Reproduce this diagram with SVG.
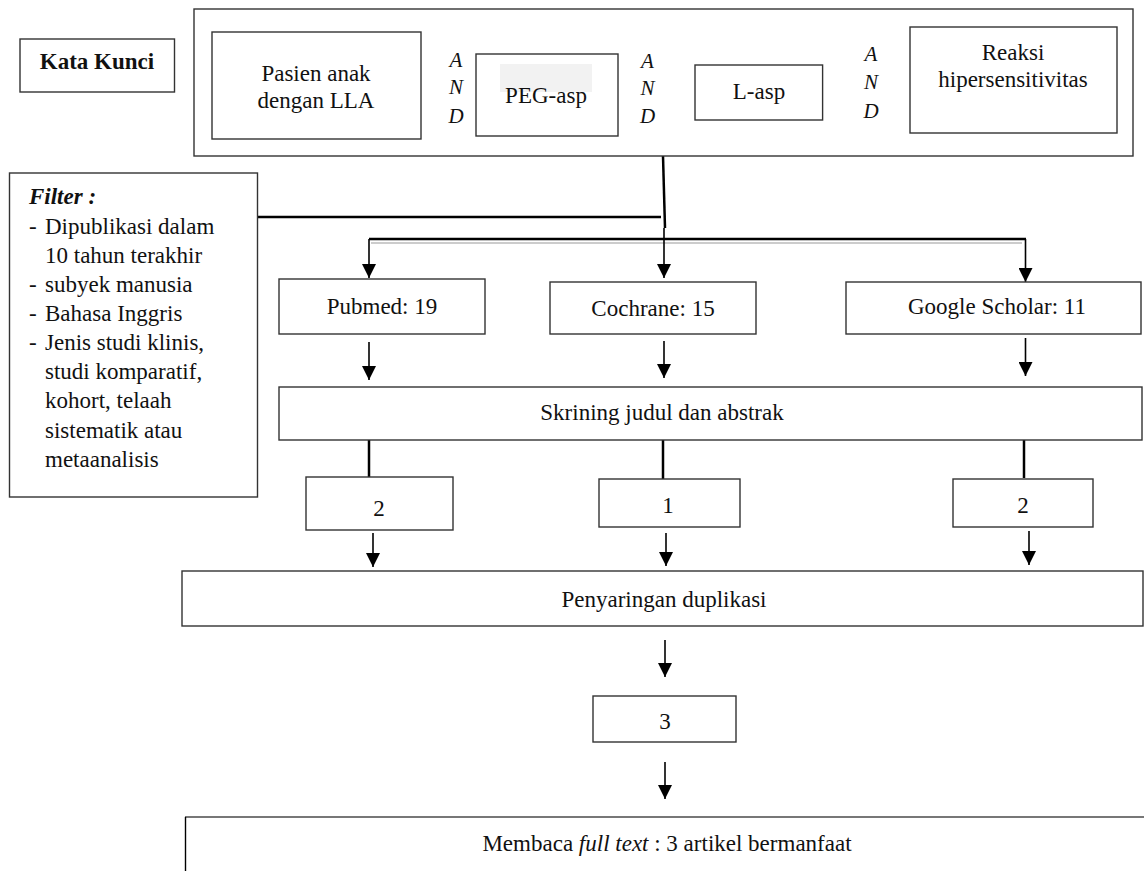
<svg xmlns="http://www.w3.org/2000/svg" width="1144" height="871" viewBox="0 0 1144 871">
<style>
.box{fill:#fff;stroke:#333;stroke-width:1.4}
.t{font-family:"Liberation Serif","Times New Roman",serif;font-size:23px;fill:#111}
.c{text-anchor:middle}
.and{font-family:"Liberation Serif","Times New Roman",serif;font-size:21px;font-style:italic;fill:#111;text-anchor:middle}
.ln{stroke:#000;stroke-width:2.5;fill:none}
.ar{stroke:#000;stroke-width:1.6;fill:none;marker-end:url(#ah)}
</style>
<defs>
<marker id="ah" viewBox="0 0 14 14" refX="14" refY="7" markerWidth="14" markerHeight="14" markerUnits="userSpaceOnUse" orient="auto">
<path d="M0,0 L14,7 L0,14 z" fill="#000"/>
</marker>
</defs>
<rect width="1144" height="871" fill="#fff"/>

<g id="connectors">
<line class="ln" x1="257" y1="217" x2="661" y2="217"/>
<line class="ln" x1="663" y1="156" x2="665" y2="228"/>
<line x1="371" y1="243" x2="1022" y2="243" stroke="#ccc" stroke-width="2"/>
<line class="ln" x1="369" y1="239" x2="1026" y2="239"/>
<line class="ar" x1="369" y1="239" x2="369" y2="278"/>
<line class="ar" x1="664" y1="228" x2="664" y2="278"/>
<line class="ar" x1="1025.5" y1="239" x2="1025.5" y2="282"/>
<line class="ar" x1="369" y1="342" x2="369" y2="380"/>
<line class="ar" x1="664" y1="341" x2="664" y2="378"/>
<line class="ar" x1="1025.5" y1="338" x2="1025.5" y2="376"/>
<line class="ln" x1="369" y1="440" x2="369" y2="478"/>
<line class="ln" x1="663" y1="440" x2="663" y2="479"/>
<line class="ln" x1="1024" y1="440" x2="1024" y2="478"/>
<line class="ar" x1="373" y1="533" x2="373" y2="567"/>
<line class="ar" x1="666" y1="533" x2="666" y2="566"/>
<line class="ar" x1="1029" y1="531" x2="1029" y2="565"/>
<line class="ar" x1="665" y1="640" x2="665" y2="677"/>
<line class="ar" x1="665" y1="762" x2="665" y2="799"/>
</g>

<g id="kata-kunci">
<rect class="box" x="20" y="39" width="154.5" height="53"/>
<text class="t c" x="97" y="69" font-size="19" font-weight="bold">Kata Kunci</text>
</g>

<g id="keyword-group">
<rect class="box" x="194" y="9" width="939" height="147" stroke="#222"/>
</g>

<g id="pasien">
<rect class="box" x="212" y="32" width="209" height="107"/>
<text class="t c" x="316" y="81">Pasien anak</text>
<text class="t c" x="316" y="108">dengan LLA</text>
</g>

<g id="and1">
<text class="and" x="456" y="67">A</text>
<text class="and" x="456" y="94">N</text>
<text class="and" x="456" y="123">D</text>
</g>

<g id="peg-asp">
<rect class="box" x="476" y="54" width="142" height="82"/>
<rect x="500" y="64" width="92" height="28" fill="#f2f2f2"/>
<text class="t c" x="546" y="103">PEG-asp</text>
</g>

<g id="and2">
<text class="and" x="647.5" y="68">A</text>
<text class="and" x="647.5" y="95">N</text>
<text class="and" x="647.5" y="123">D</text>
</g>

<g id="l-asp">
<rect class="box" x="695" y="65" width="127.6" height="55"/>
<text class="t c" x="759" y="99">L-asp</text>
</g>

<g id="and3">
<text class="and" x="871" y="61">A</text>
<text class="and" x="871" y="89">N</text>
<text class="and" x="871" y="118">D</text>
</g>

<g id="reaksi">
<rect class="box" x="910" y="27" width="207" height="106"/>
<text class="t c" x="1013" y="60">Reaksi</text>
<text class="t c" x="1013" y="87">hipersensitivitas</text>
</g>

<g id="filter">
<rect class="box" x="9.5" y="173" width="248" height="324"/>
<text class="t" x="29" y="204" font-size="20" font-weight="bold" font-style="italic">Filter :</text>
<text class="t" x="29" y="234">-</text>
<text class="t" x="45" y="234">Dipublikasi dalam</text>
<text class="t" x="45" y="263">10 tahun terakhir</text>
<text class="t" x="29" y="292">-</text>
<text class="t" x="45" y="292">subyek manusia</text>
<text class="t" x="29" y="321">-</text>
<text class="t" x="45" y="321">Bahasa Inggris</text>
<text class="t" x="29" y="350">-</text>
<text class="t" x="45" y="350">Jenis studi klinis,</text>
<text class="t" x="45" y="379">studi komparatif,</text>
<text class="t" x="45" y="408">kohort, telaah</text>
<text class="t" x="45" y="438">sistematik atau</text>
<text class="t" x="45" y="467">metaanalisis</text>
</g>

<g id="pubmed">
<rect class="box" x="279" y="279" width="206" height="55"/>
<text class="t c" x="382" y="314">Pubmed: 19</text>
</g>

<g id="cochrane">
<rect class="box" x="550" y="282" width="206" height="52"/>
<text class="t c" x="653" y="316">Cochrane: 15</text>
</g>

<g id="google-scholar">
<rect class="box" x="846" y="282" width="295" height="52"/>
<text class="t c" x="997" y="314">Google Scholar: 11</text>
</g>

<g id="skrining">
<rect class="box" x="279" y="387" width="863" height="53"/>
<text class="t c" x="662" y="420">Skrining judul dan abstrak</text>
</g>

<g id="hasil-pubmed">
<rect class="box" x="306" y="477" width="147" height="53"/>
<text class="t c" x="379" y="516">2</text>
</g>

<g id="hasil-cochrane">
<rect class="box" x="599" y="479" width="141" height="48"/>
<text class="t c" x="668" y="513">1</text>
</g>

<g id="hasil-google">
<rect class="box" x="953" y="479" width="140" height="48"/>
<text class="t c" x="1023" y="513">2</text>
</g>

<g id="penyaringan">
<rect class="box" x="182" y="571" width="961" height="55" stroke="#555"/>
<text class="t c" x="664" y="607">Penyaringan duplikasi</text>
</g>

<g id="hasil-duplikasi">
<rect class="box" x="593" y="696" width="143" height="46"/>
<text class="t c" x="665" y="729">3</text>
</g>

<g id="membaca">
<line x1="185" y1="817" x2="1144" y2="817" stroke="#777" stroke-width="2"/>
<line x1="185.5" y1="817" x2="185.5" y2="871" stroke="#000" stroke-width="1.4"/>
<text class="t c" x="667" y="851">Membaca <tspan font-style="italic">full text</tspan> : 3 artikel bermanfaat</text>
</g>
</svg>
